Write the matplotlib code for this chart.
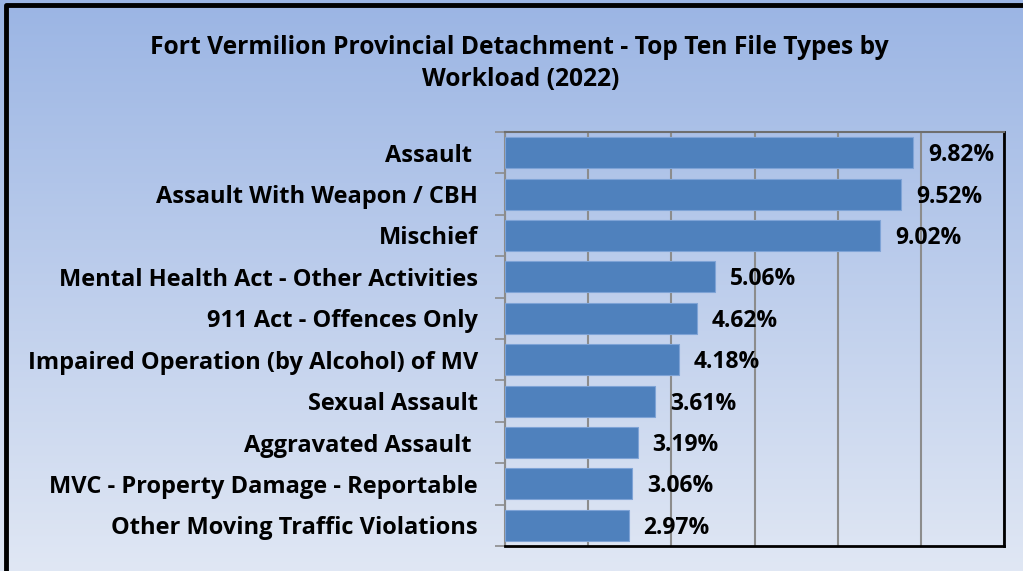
import numpy as np
import matplotlib.pyplot as plt
from matplotlib.colors import LinearSegmentedColormap

categories = ["Assault ", "Assault With Weapon / CBH", "Mischief",
              "Mental Health Act - Other Activities", "911 Act - Offences Only",
              "Impaired Operation (by Alcohol) of MV", "Sexual Assault",
              "Aggravated Assault ", "MVC - Property Damage - Reportable",
              "Other Moving Traffic Violations"]
values = [9.82, 9.52, 9.02, 5.06, 4.62, 4.18, 3.61, 3.19, 3.06, 2.97]
value_labels = ["9.82%", "9.52%", "9.02%", "5.06%", "4.62%",
                "4.18%", "3.61%", "3.19%", "3.06%", "2.97%"]
title_lines = ["Fort Vermilion Provincial Detachment - Top Ten File Types by",
               "Workload (2022)"]

plt.rcParams['font.family'] = ['Open Sans', 'DejaVu Sans']

fig = plt.figure(figsize=(10.23, 5.71), dpi=100)

# background gradient
bg = fig.add_axes([0, 0, 1, 1], zorder=-10)
grad = LinearSegmentedColormap.from_list("bg", ["#9bb5e4", "#e0e7f4"])
bg.imshow(np.linspace(0, 1, 256).reshape(-1, 1), aspect='auto', cmap=grad,
          extent=[0, 1, 0, 1], origin='upper')
bg.set_xlim(0, 1)
bg.set_ylim(0, 1)
bg.axis('off')
# outer black frame
bg.plot([0.0055, 0.0055, 1.1], [-0.1, 0.991, 0.991], color='black', lw=3.5,
        transform=bg.transAxes, clip_on=False)

ax = fig.add_axes([505 / 1023, 25 / 571, 499 / 1023, 414 / 571])
ax.patch.set_alpha(0)
y = np.arange(len(categories))
ax.barh(y, values, height=0.75, color='#4f81bd', edgecolor='#7ea3d6',
        linewidth=0.8, zorder=3)
for yi, v, lab in zip(y, values, value_labels):
    ax.text(v + 0.36, yi + 0.06, lab, va='center', ha='left',
            fontsize=16.5, fontweight='bold', color='black', zorder=4)

ax.set_xlim(0, 12)
ax.set_ylim(len(categories) - 0.5, -0.5)
ax.set_xticks(np.arange(0, 13, 2))
ax.tick_params(axis='x', length=0, labelbottom=False)
ax.grid(axis='x', color='#8c8c8c', lw=1.5, zorder=1)
ax.set_yticks(y)
ax.set_yticklabels(categories, fontsize=17, fontweight='bold')
ax.set_yticks(np.arange(-0.5, len(categories)), minor=True)
ax.tick_params(axis='y', which='major', length=0, pad=19.5)
ax.tick_params(axis='y', which='minor', length=7, width=1.2, color='#8c8c8c')

ax.spines['left'].set_color('#8c8c8c')
ax.spines['left'].set_linewidth(1.5)
ax.spines['top'].set_color('#6e6e6e')
ax.spines['top'].set_linewidth(1.5)
ax.spines['right'].set_color('black')
ax.spines['right'].set_linewidth(2)
ax.spines['bottom'].set_color('black')
ax.spines['bottom'].set_linewidth(2)

fig.text(0.508, 1 - 47 / 571, title_lines[0], ha='center', va='center',
         fontsize=17.7, fontweight='bold')
fig.text(0.509, 1 - 80 / 571, title_lines[1], ha='center', va='center',
         fontsize=17.7, fontweight='bold')

fig.savefig('out.png', dpi=100)
